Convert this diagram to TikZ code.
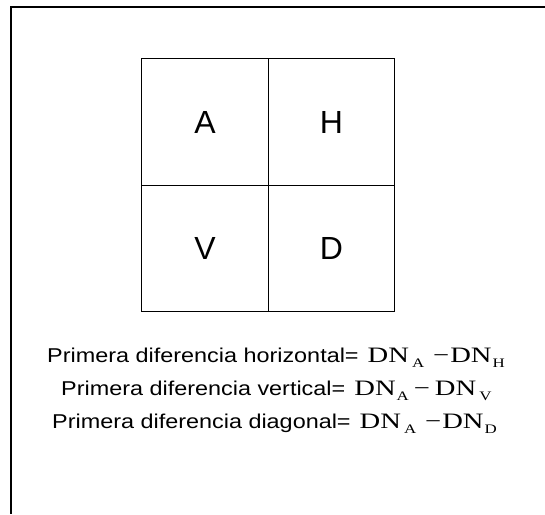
\documentclass[tikz,border=0pt]{standalone}
\usepackage{fontspec}
\setmainfont{Liberation Sans}
\newfontfamily\wide[FakeStretch=1.17]{Liberation Sans}
\newfontfamily\tms[FakeStretch=1.3]{Liberation Serif}
\newcommand{\dnx}[2][1pt]{{\tms\fontsize{22}{24}\selectfont DN\hspace{#1}\raisebox{-5pt}{\fontsize{13}{14}\selectfont #2}}}
\newcommand{\mns}{{\tms\fontsize{22}{24}\selectfont −}}
\begin{document}
\begin{tikzpicture}[x=1pt,y=1pt,
  cell/.style={draw=black,line width=1pt,minimum width=126.5pt,minimum height=126.5pt,inner sep=0pt,font=\fontsize{32}{36}\selectfont},
  txt/.style={anchor=base west,inner sep=0pt,font=\wide\fontsize{20}{22}\selectfont}]
\useasboundingbox (0,0) rectangle (545,-514);
\draw[line width=1.3pt] (545,-7) -- (11,-7) -- (11,-514);
\node[cell] (A) at (205,-122) {A};
\node[cell] (H) at (331.5,-122) {H};
\node[cell] (V) at (205,-248.5) {V};
\node[cell] (D) at (331.5,-248.5) {D};
\node[txt] (t1) at (47,-362) {Primera diferencia horizontal=\hspace{9pt}\dnx[3pt]{A}\hspace{9pt}\mns\hspace{1pt}\dnx{H}};
\node[txt] (t2) at (61,-395) {Primera diferencia vertical=\hspace{9pt}\dnx{A}\hspace{5pt}\mns\hspace{5pt}\dnx[3pt]{V}};
\node[txt] (t3) at (52,-428) {Primera diferencia diagonal=\hspace{9pt}\dnx[3pt]{A}\hspace{9pt}\mns\hspace{1pt}\dnx{D}};
\end{tikzpicture}
\end{document}
